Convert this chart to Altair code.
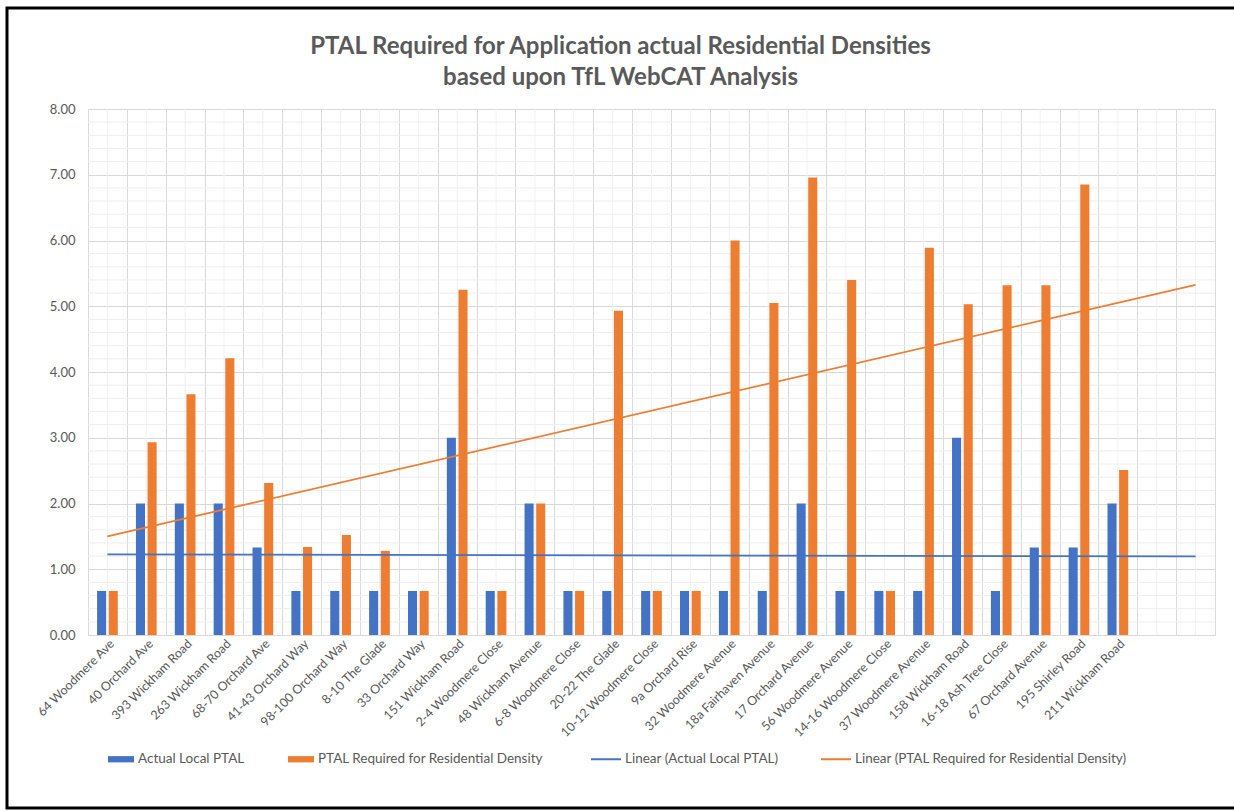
import altair as alt
import numpy as np
import pandas as pd

names = ["64 Woodmere Ave", "40 Orchard Ave", "393 Wickham Road", "263 Wickham Road",
         "68-70 Orchard Ave", "41-43 Orchard Way", "98-100 Orchard Way", "8-10 The Glade",
         "33 Orchard Way", "151 Wickham Road", "2-4 Woodmere Close", "48 Wickham Avenue",
         "6-8 Woodmere Close", "20-22 The Glade", "10-12 Woodmere Close", "9a Orchard Rise",
         "32 Woodmere Avenue", "18a Fairhaven Avenue", "17 Orchard Avenue", "56 Woodmere Avenue",
         "14-16 Woodmere Close", "37 Woodmere Avenue", "158 Wickham Road", "16-18 Ash Tree Close",
         "67 Orchard Avenue", "195 Shirley Road", "211 Wickham Road"]
empty_slots = ["_blank1", "_blank2"]

actual = [0.67, 2.00, 2.00, 2.00, 1.33, 0.67, 0.67, 0.67, 0.67, 3.00, 0.67, 2.00, 0.67, 0.67,
          0.67, 0.67, 0.67, 0.67, 2.00, 0.67, 0.67, 0.67, 3.00, 0.67, 1.33, 1.33, 2.00]
required = [0.67, 2.93, 3.66, 4.21, 2.31, 1.34, 1.52, 1.28, 0.67, 5.25, 0.67, 2.00, 0.67, 4.93,
            0.67, 0.67, 6.00, 5.05, 6.96, 5.40, 0.67, 5.89, 5.03, 5.32, 5.32, 6.85, 2.51]

bar_series = ["Actual Local PTAL", "PTAL Required for Residential Density"]
line_series = ["Linear (Actual Local PTAL)", "Linear (PTAL Required for Residential Density)"]
blue = "#4472C4"
orange = "#ED7D31"
y_major = [0, 1, 2, 3, 4, 5, 6, 7, 8]
y_minor = [round(i * 0.2, 1) for i in range(41) if i % 5 != 0]

cats = names + empty_slots
W, H = 1127, 526
FONT = "Lato"
GREY = "#595959"

bars_df = pd.DataFrame({
    "name": names * 2,
    "series": [bar_series[0]] * len(names) + [bar_series[1]] * len(names),
    "value": actual + required,
})

# linear trendlines (least squares over the 27 points, extended across the axis)
xs = np.arange(1, len(names) + 1)
rows = []
for s, vals in zip(line_series, [actual, required]):
    slope, icpt = np.polyfit(xs, vals, 1)
    for i in (1, len(cats)):
        rows.append({"name": cats[i - 1], "series": s, "value": slope * i + icpt})
trend_df = pd.DataFrame(rows)

x_enc = alt.X("name:N", sort=cats,
              scale=alt.Scale(domain=cats, paddingInner=0, paddingOuter=0),
              axis=alt.Axis(title=None, labelAngle=-45, labelAlign="right", labelBaseline="top",
                            labelExpr="indexof(datum.label, '_blank') == 0 ? '' : datum.label",
                            labelFont=FONT, labelFontSize=12.5, labelColor=GREY, labelPadding=2,
                            ticks=False, tickBand="extent", grid=True, gridColor="#d9d9d9",
                            domainColor="#d9d9d9", labelOverlap=False))
y_enc = alt.Y("value:Q", scale=alt.Scale(domain=[0, 8], nice=False),
              axis=alt.Axis(title=None, values=y_major, ticks=False, domain=False,
                            format=".2f", labelOverlap=False,
                            labelFont=FONT, labelFontSize=13, labelColor=GREY, labelPadding=13,
                            gridColor="#d9d9d9"))

minor_v = alt.Chart(pd.DataFrame({"name": cats})).mark_rule(color="#f1f1f1", strokeWidth=1).encode(
    x=alt.X("name:N", sort=cats)
)
minor_h = alt.Chart(pd.DataFrame({"v": y_minor})).mark_rule(color="#eeeeee", strokeWidth=1).encode(
    y=alt.Y("v:Q")
)

bars = alt.Chart(bars_df).mark_bar().encode(
    x=x_enc,
    xOffset=alt.XOffset("series:N", sort=bar_series,
                        scale=alt.Scale(domain=bar_series, paddingInner=0.22, paddingOuter=0.78)),
    y=y_enc,
    fill=alt.Fill("series:N", sort=bar_series,
                  scale=alt.Scale(domain=bar_series, range=[blue, orange]),
                  legend=alt.Legend(title=None, orient="none", legendX=20, legendY=637,
                                    direction="horizontal", columns=2, columnPadding=43,
                                    symbolType="M-1,-0.24H1V0.24H-1Z", symbolSize=676,
                                    symbolStrokeWidth=0, labelFont=FONT, labelFontSize=13.5,
                                    labelColor=GREY, labelOffset=4, labelLimit=0)),
)

lines = alt.Chart(trend_df).mark_line(strokeWidth=1.8).encode(
    x=alt.X("name:N", sort=cats),
    y=alt.Y("value:Q"),
    detail="series:N",
    stroke=alt.Stroke("series:N", sort=line_series,
                      scale=alt.Scale(domain=line_series, range=[blue, orange]),
                      legend=alt.Legend(title=None, orient="none", legendX=502, legendY=634,
                                        direction="horizontal", columns=2, columnPadding=38,
                                        symbolType="stroke", symbolSize=900, symbolStrokeWidth=2,
                                        labelFont=FONT, labelFontSize=13.5, labelColor=GREY,
                                        labelOffset=3, labelLimit=0)),
)

frame = alt.Chart(pd.DataFrame({"a": [0]})).mark_rect(
    fill="transparent", stroke="#000000", strokeWidth=3
).encode(
    x=alt.value(-81), x2=alt.value(W + 200), y=alt.value(-101), y2=alt.value(H + 173)
)

chart = alt.layer(minor_v, minor_h, bars, lines, frame).properties(
    width=W, height=H,
    autosize=alt.AutoSizeParams(type="none"),
    padding={"left": 88, "top": 109, "right": 19, "bottom": 177},
    title=alt.TitleParams(
        text=["PTAL Required for Application actual Residential Densities",
              "based upon TfL WebCAT Analysis"],
        font=FONT, fontSize=24, fontWeight="bold", color=GREY, anchor="middle",
        frame="group", dx=-31, offset=-83, lineHeight=31),
).configure_view(stroke=None).configure(background="white")

chart.save("out.html", embed_options={"renderer": "svg", "actions": False})
